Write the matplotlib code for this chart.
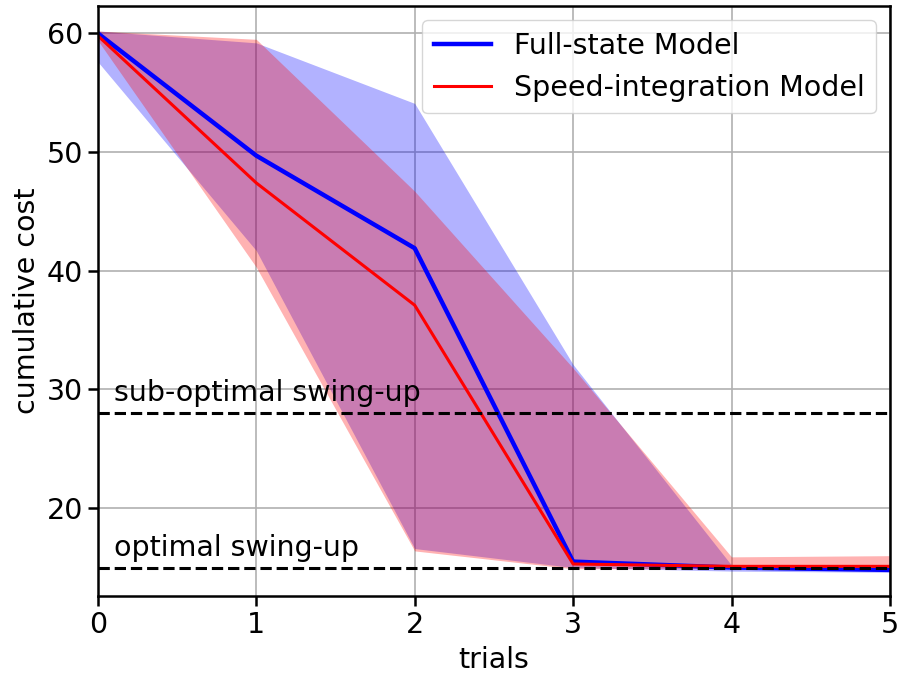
import matplotlib
matplotlib.use("Agg")
import matplotlib.pyplot as plt
import numpy as np

trials = [0, 1, 2, 3, 4, 5]

full_mean = [60.0, 49.7, 41.9, 15.5, 15.0, 14.8]
full_upper = [60.2, 59.2, 54.1, 32.1, 15.2, 14.9]
full_lower = [57.6, 41.7, 16.6, 15.0, 14.7, 14.6]

speed_mean = [59.8, 47.4, 37.1, 15.3, 15.1, 15.1]
speed_upper = [60.2, 59.5, 46.7, 31.8, 15.9, 16.0]
speed_lower = [59.4, 40.3, 16.4, 14.9, 14.9, 14.8]

suboptimal_cost = 28
optimal_cost = 15

FS = 20.5
plt.rcParams['font.family'] = ['DejaVu Sans']
fig = plt.figure(figsize=(8.98, 6.75), dpi=100)
ax = fig.add_axes([0.109, 0.117, 0.882, 0.874])

ax.fill_between(trials, full_lower, full_upper, color='blue', alpha=0.3, linewidth=0)
ax.fill_between(trials, speed_lower, speed_upper, color='red', alpha=0.3, linewidth=0)
ax.plot(trials, full_mean, color='blue', linewidth=3.2, label='Full-state Model')
ax.plot(trials, speed_mean, color='red', linewidth=2.2, label='Speed-integration Model')

ax.axhline(suboptimal_cost, color='black', linestyle='--', linewidth=2.2)
ax.axhline(optimal_cost, color='black', linestyle='--', linewidth=2.2)
ax.text(0.1, 29.0, 'sub-optimal swing-up', fontsize=FS)
ax.text(0.1, 16.0, 'optimal swing-up', fontsize=FS)

ax.set_xlim(0, 5)
ax.set_ylim(12.6, 62.3)
ax.set_xticks([0, 1, 2, 3, 4, 5])
ax.set_yticks([20, 30, 40, 50, 60])
ax.grid(True, color='#b0b0b0', linewidth=1.2)
ax.set_axisbelow(True)
ax.tick_params(labelsize=FS, width=1.8, length=7)
for s in ax.spines.values():
    s.set_linewidth(1.8)
ax.set_xlabel('trials', fontsize=FS, labelpad=5)
ax.set_ylabel('cumulative cost', fontsize=FS, labelpad=4)
ax.legend(loc='upper right', fontsize=FS)

fig.savefig('out.png', dpi=100)
